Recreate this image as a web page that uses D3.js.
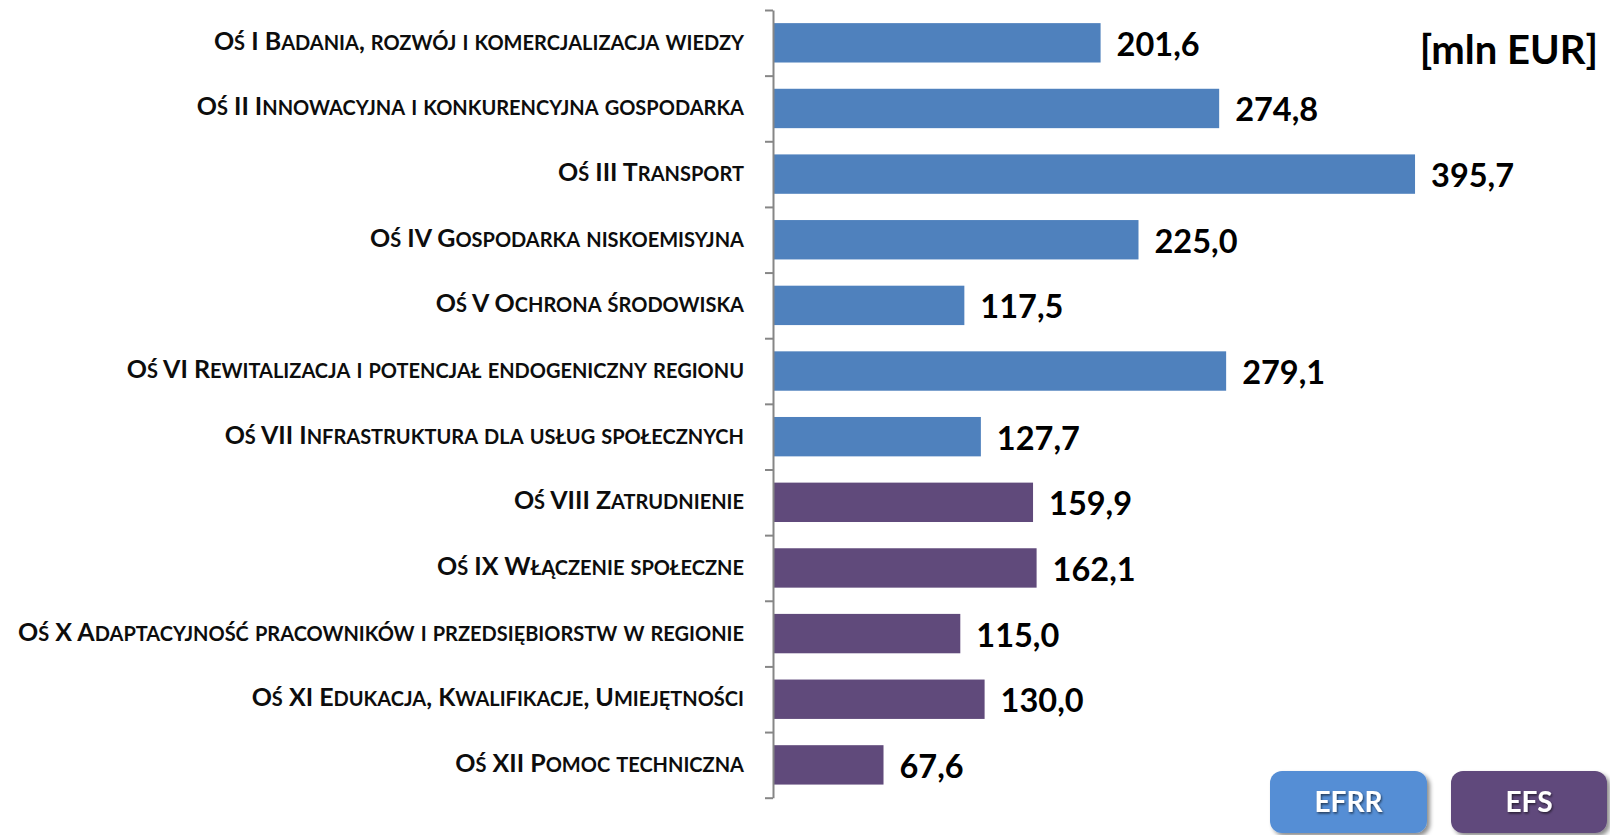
<!DOCTYPE html>
<html>
<head>
<meta charset="utf-8">
<script src="https://cdn.jsdelivr.net/npm/d3@7"></script>
<style>
  body { margin: 0; background: #fff; }
  svg { display: block; }
  .cat { font-family: Lato, "Open Sans", sans-serif; font-weight: bold; fill: #0d0d0d; }
  .small { text-transform: uppercase; }
  .val { font-family: Lato, "Open Sans", sans-serif; font-weight: bold; fill: #000; }
</style>
</head>
<body>
<div id="chart"></div>
<script>
// data
var categories = [
	"Oś I Badania, rozwój i komercjalizacja wiedzy",
	"Oś II Innowacyjna i konkurencyjna gospodarka",
	"Oś III Transport",
	"Oś IV Gospodarka niskoemisyjna",
	"Oś V Ochrona środowiska",
	"Oś VI Rewitalizacja i potencjał endogeniczny regionu",
	"Oś VII Infrastruktura dla usług społecznych",
	"Oś VIII Zatrudnienie",
	"Oś IX Włączenie społeczne",
	"Oś X Adaptacyjność pracowników i przedsiębiorstw w regionie",
	"Oś XI Edukacja, Kwalifikacje, Umiejętności",
	"Oś XII Pomoc techniczna"
];
var values = [201.6, 274.8, 395.7, 225.0, 117.5, 279.1, 127.7, 159.9, 162.1, 115.0, 130.0, 67.6];
var funds = ["EFRR", "EFRR", "EFRR", "EFRR", "EFRR", "EFRR", "EFRR", "EFS", "EFS", "EFS", "EFS", "EFS"];
var fundNames = ["EFRR", "EFS"];
var unitLabel = "[mln EUR]";

var W = 1610, H = 835;
var BAR_COLORS = { "EFRR": "#4f81bd", "EFS": "#604a7b" };
var BOX_COLORS = { "EFRR": "#558ed5", "EFS": "#604a7b" };

var svg = d3.select("#chart").append("svg")
	.attr("width", W)
	.attr("height", H);

var defs = svg.append("defs");
var shadow = defs.append("filter").attr("id", "shadow")
	.attr("x", "-10%").attr("y", "-10%").attr("width", "130%").attr("height", "140%");
shadow.append("feDropShadow")
	.attr("dx", 3).attr("dy", 3).attr("stdDeviation", 2)
	.attr("flood-color", "#000").attr("flood-opacity", 0.45);
var tshadow = defs.append("filter").attr("id", "tshadow");
tshadow.append("feDropShadow")
	.attr("dx", 1).attr("dy", 1.5).attr("stdDeviation", 0.8)
	.attr("flood-color", "#000").attr("flood-opacity", 0.6);

// scales
var x = d3.scaleLinear().domain([0, 500]).range([774, 1584]);
var y = d3.scaleBand().domain(categories).range([10, 797.7])
	.paddingInner(0.4).paddingOuter(0.2);
// category boundaries (ticks sit between the bars)
var yb = d3.scaleLinear().domain([0, categories.length]).range([10, 797.7]);

// bars
svg.selectAll(".bar")
	.data(categories)
	.enter()
	.append("rect")
	.attr("class", "bar")
	.attr("x", x(0))
	.attr("y", function(d) { return y(d); })
	.attr("width", function(d, i) { return x(values[i]) - x(0); })
	.attr("height", y.bandwidth())
	.attr("fill", function(d, i) { return BAR_COLORS[funds[i]]; });

// axis line with ticks between categories
var axis = svg.append("g")
	.attr("transform", "translate(773,0)")
	.call(d3.axisLeft(yb).tickValues(d3.range(categories.length + 1)).tickSize(8).tickSizeOuter(0).tickFormat(""));
axis.selectAll("path, line").attr("stroke", "#868686").attr("stroke-width", 2);

// category labels in small caps
var labels = svg.selectAll(".cat")
	.data(categories)
	.enter()
	.append("text")
	.attr("class", "cat")
	.attr("x", 744)
	.attr("y", function(d) { return y(d) + y.bandwidth() / 2 + 7; })
	.attr("text-anchor", "end")
	.style("font-size", "25px");

labels.each(function(d) {
	var t = d3.select(this);
	var runs = d.match(/\p{Ll}+|\P{Ll}+/gu);
	runs.forEach(function(r) {
		var isLower = /\p{Ll}/u.test(r);
		t.append("tspan")
			.attr("class", isLower ? "small" : null)
			.style("font-size", isLower ? "20px" : null)
			.text(r);
	});
});

// value labels
var fmt = d3.formatLocale({ decimal: ",", thousands: " ", grouping: [3], currency: ["", ""] }).format(".1f");
svg.selectAll(".val")
	.data(categories)
	.enter()
	.append("text")
	.attr("class", "val")
	.attr("x", function(d, i) { return x(values[i]) + 16; })
	.attr("y", function(d) { return y(d) + y.bandwidth() / 2 + 13; })
	.style("font-size", "32.5px")
	.text(function(d, i) { return fmt(values[i]); });

// unit label
svg.append("text")
	.attr("class", "val")
	.attr("x", 1598)
	.attr("y", 64)
	.attr("text-anchor", "end")
	.style("font-size", "40px")
	.text(unitLabel);

// legend boxes
var boxes = [
	{ name: fundNames[0], x: 1270, w: 157 },
	{ name: fundNames[1], x: 1451, w: 156 }
];
var legend = svg.selectAll(".legend")
	.data(boxes)
	.enter()
	.append("g")
	.attr("class", "legend");

legend.append("rect")
	.attr("x", function(d) { return d.x; })
	.attr("y", 771)
	.attr("width", function(d) { return d.w; })
	.attr("height", 62)
	.attr("rx", 12)
	.attr("fill", function(d) { return BOX_COLORS[d.name]; })
	.attr("filter", "url(#shadow)");

legend.append("text")
	.attr("x", function(d) { return d.x + d.w / 2; })
	.attr("y", 812)
	.attr("text-anchor", "middle")
	.attr("fill", "#fff")
	.attr("filter", "url(#tshadow)")
	.style("font-family", "Lato, 'Open Sans', sans-serif")
	.style("font-weight", "bold")
	.style("font-size", "28px")
	.text(function(d) { return d.name; });
</script>
</body>
</html>
